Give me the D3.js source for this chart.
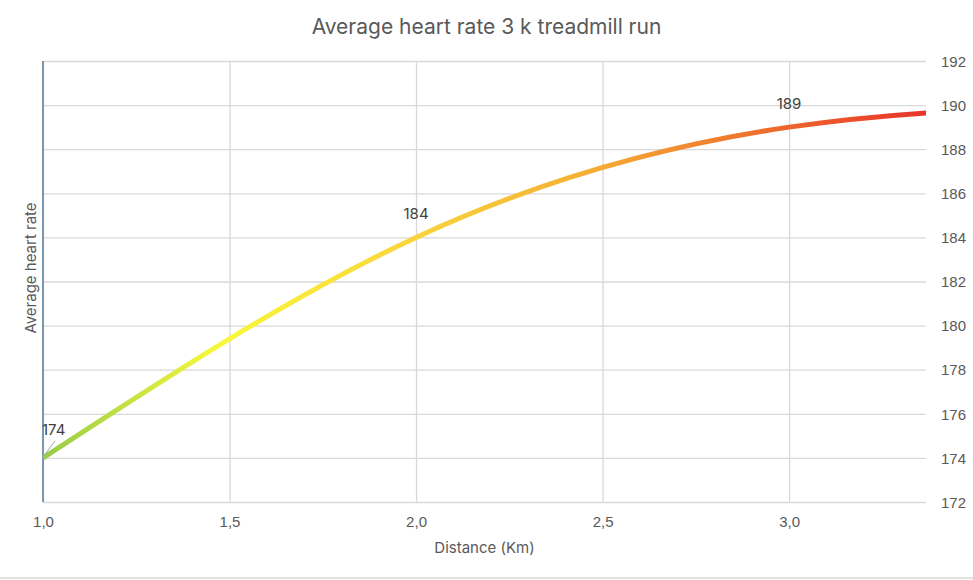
<!DOCTYPE html>
<html>
<head>
<meta charset="utf-8">
<script src="https://cdn.jsdelivr.net/npm/d3@7"></script>
<style>
  html, body { margin: 0; padding: 0; background: #fff; }
  svg { display: block; font-family: Inter, "Open Sans", "Noto Sans", sans-serif; }
</style>
</head>
<body>
<svg id="chart" width="973" height="580"></svg>
<script>
// ---- data ----
const distances = [1.0, 2.0, 3.0, 4.0];
const heartRates = [174, 184, 189, 190];
const labelledPoints = [0, 1, 2];
const xTicks = [1.0, 1.5, 2.0, 2.5, 3.0];
const yTicks = [172, 174, 176, 178, 180, 182, 184, 186, 188, 190, 192];
const xDomain = [1.0, 3.367];
const yDomain = [172, 192];
const gradientStops = [
  { offset: 0.00, color: "#96cc48" },
  { offset: 0.20, color: "#f8f83c" },
  { offset: 0.42, color: "#f9d43c" },
  { offset: 0.62, color: "#f5ae34" },
  { offset: 0.78, color: "#ef7a2e" },
  { offset: 1.00, color: "#e8342a" }
];
const titleText = "Average heart rate 3 k treadmill run";
const xTitle = "Distance (Km)";
const yTitle = "Average heart rate";

// ---- layout ----
const W = 973, H = 580;
const m = { left: 43, right: 47, top: 61, bottom: 78 };
const svg = d3.select("#chart");
const x = d3.scaleLinear().domain(xDomain).range([m.left, W - m.right]);
const y = d3.scaleLinear().domain(yDomain).range([H - m.bottom, m.top]);
const fmt = d => d3.format(".1f")(d).replace(".", ",");
const textColor = "#595959";

// bottom border
svg.append("line").attr("x1", 0).attr("x2", W).attr("y1", 578).attr("y2", 578)
  .attr("stroke", "#d9d9d9").attr("stroke-width", 1.5);

// gridlines
const gx = svg.append("g").attr("transform", `translate(0,${H - m.bottom})`)
  .call(d3.axisBottom(x).tickValues(xTicks).tickSize(-(H - m.bottom - m.top)).tickFormat(fmt));
gx.select(".domain").remove();
gx.selectAll(".tick line").attr("stroke", "#d9d9d9").attr("stroke-width", 1.3);
gx.selectAll(".tick text").attr("fill", textColor).attr("font-size", 15).attr("y", 14).attr("dy", "0.71em");

const gy = svg.append("g").attr("transform", `translate(${W - m.right},0)`)
  .call(d3.axisRight(y).tickValues(yTicks).tickSize(-(W - m.right - m.left)));
gy.select(".domain").remove();
gy.selectAll(".tick line").attr("stroke", "#d9d9d9").attr("stroke-width", 1.3);
gy.selectAll(".tick text").attr("fill", textColor).attr("font-size", 15).attr("x", 15).attr("dy", "0.35em");

// left axis line
svg.append("line").attr("x1", m.left).attr("x2", m.left).attr("y1", m.top).attr("y2", H - m.bottom)
  .attr("stroke", "#6f8fa8").attr("stroke-width", 1.8);

// gradient
const defs = svg.append("defs");
const grad = defs.append("linearGradient").attr("id", "lineGrad")
  .attr("gradientUnits", "userSpaceOnUse")
  .attr("x1", x(xDomain[0])).attr("x2", x(xDomain[1])).attr("y1", 0).attr("y2", 0);
grad.selectAll("stop").data(gradientStops).join("stop")
  .attr("offset", d => d.offset).attr("stop-color", d => d.color);
defs.append("clipPath").attr("id", "plotClip").append("rect")
  .attr("x", m.left).attr("y", m.top - 10).attr("width", W - m.right - m.left).attr("height", H - m.bottom - m.top + 20);

const pts = distances.map((d, i) => [d, heartRates[i]]);
const line = d3.line().x(d => x(d[0])).y(d => y(d[1])).curve(d3.curveNatural);
svg.append("path").attr("d", line(pts)).attr("fill", "none")
  .attr("stroke", "url(#lineGrad)").attr("stroke-width", 5)
  .attr("stroke-linecap", "butt").attr("clip-path", "url(#plotClip)");

// data labels
const labelG = svg.append("g").attr("fill", "#404040").attr("font-size", 15);
labelledPoints.forEach(i => {
  const px = x(distances[i]), py = y(heartRates[i]);
  if (i === 0) {
    svg.append("line").attr("x1", px + 1).attr("y1", py - 2).attr("x2", px + 12).attr("y2", py - 17)
      .attr("stroke", "#a6a6a6").attr("stroke-width", 1);
    labelG.append("text").attr("x", px - 1).attr("y", py - 23).text(heartRates[i]);
  } else {
    labelG.append("text").attr("x", px).attr("y", py - 18).attr("text-anchor", "middle").text(heartRates[i]);
  }
});

// titles
svg.append("text").attr("x", W / 2).attr("y", 34).attr("text-anchor", "middle")
  .attr("fill", textColor).attr("font-size", 21).text(titleText);
svg.append("text").attr("x", (m.left + W - m.right) / 2).attr("y", 553).attr("text-anchor", "middle")
  .attr("fill", textColor).attr("font-size", 15).text(xTitle);
svg.append("text").attr("transform", `translate(36,268) rotate(-90)`)
  .attr("text-anchor", "middle").attr("fill", textColor).attr("font-size", 15).text(yTitle);
</script>
</body>
</html>
